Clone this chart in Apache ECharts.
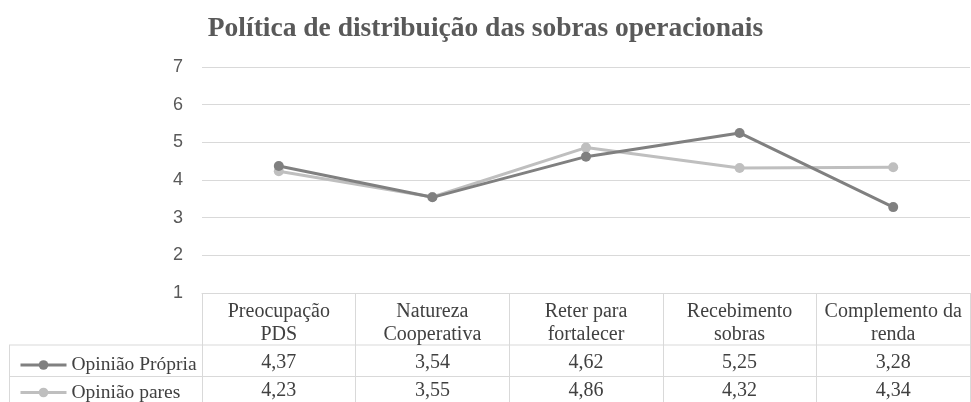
<!DOCTYPE html>
<html>
<head>
<meta charset="utf-8">
<script src="https://cdn.jsdelivr.net/npm/echarts@6/dist/echarts.min.js"></script>
<style>
  html, body { margin: 0; padding: 0; background: #fff; }
  #chart { width: 971px; height: 402px; }
</style>
</head>
<body>
<div id="chart"></div>
<script>
const categories = [
  "Preocupação\nPDS",
  "Natureza\nCooperativa",
  "Reter para\nfortalecer",
  "Recebimento\nsobras",
  "Complemento da\nrenda",
];
const propria = [4.37, 3.54, 4.62, 5.25, 3.28];
const pares = [4.23, 3.55, 4.86, 4.32, 4.34];
const seriesNames = ["Opinião Própria", "Opinião pares"];
const seriesColors = ["#808080", "#bfbfbf"];
const yTicks = [1, 2, 3, 4, 5, 6, 7];

const serif = "'Liberation Serif', 'Times New Roman', serif";
const gridLine = "#d9d9d9";
const fmt = (v) => v.toFixed(2).replace(".", ",");

const chart = echarts.init(document.getElementById("chart"));

const legendFor = (name, top) => ({
  orient: "horizontal",
  left: 14,
  top: top,
  itemWidth: 46,
  itemHeight: 12,
  data: [name],
  lineStyle: { width: 3 },
  textStyle: {
    fontFamily: serif,
    fontSize: 19.5,
    color: "#404040",
    lineHeight: 20,
  },
});

const option = {
  backgroundColor: "#ffffff",
  animation: false,
  title: {
    text: "Política de distribuição das sobras operacionais",
    left: "center",
    top: 10,
    textStyle: {
      fontFamily: serif,
      fontSize: 27.5,
      fontWeight: "bold",
      color: "#595959",
    },
  },
  legend: [legendFor(seriesNames[0], 350), legendFor(seriesNames[1], 377.5)],
  grid: {
    left: 202,
    right: 1,
    top: 67,
    bottom: 109,
  },
  xAxis: {
    type: "category",
    data: categories,
    boundaryGap: true,
    axisLine: { show: true, lineStyle: { color: gridLine, width: 1 } },
    axisTick: {
      show: true,
      interval: 0,
      length: 112,
      lineStyle: { color: gridLine, width: 1 },
    },
    axisLabel: {
      interval: 0,
      margin: 7,
      verticalAlign: "top",
      formatter: (value, idx) => {
        const parts = value.split("\n").map((p) => "{h|" + p + "}");
        return parts.join("\n") + "\n{a|" + fmt(propria[idx]) + "}\n{b|" + fmt(pares[idx]) + "}";
      },
      rich: {
        h: { fontFamily: serif, fontSize: 20, color: "#404040", lineHeight: 23, align: "center" },
        a: { fontFamily: serif, fontSize: 20, color: "#404040", lineHeight: 34, align: "center" },
        b: { fontFamily: serif, fontSize: 20, color: "#404040", lineHeight: 21, align: "center" },
      },
    },
  },
  yAxis: {
    type: "value",
    min: yTicks[0],
    max: yTicks[yTicks.length - 1],
    interval: 1,
    axisLine: { show: false },
    axisTick: { show: false },
    axisLabel: {
      color: "#595959",
      fontFamily: "'Liberation Sans', Arial, sans-serif",
      fontSize: 18,
      margin: 19,
    },
    splitLine: { lineStyle: { color: gridLine, width: 1 } },
  },
  series: [
    {
      name: seriesNames[0],
      type: "line",
      data: propria,
      symbol: "circle",
      symbolSize: 10,
      z: 3,
      lineStyle: { color: seriesColors[0], width: 3 },
      itemStyle: { color: seriesColors[0] },
    },
    {
      name: seriesNames[1],
      type: "line",
      data: pares,
      symbol: "circle",
      symbolSize: 10,
      z: 2,
      lineStyle: { color: seriesColors[1], width: 3 },
      itemStyle: { color: seriesColors[1] },
    },
  ],
};

chart.setOption(option);

// table borders around the legend column and value rows
const topY = chart.convertToPixel({ yAxisIndex: 0 }, yTicks[0]);
const row1 = topY + 52;
const row2 = row1 + 31.5;
const lineStyle = { stroke: gridLine, lineWidth: 1 };
chart.setOption({
  graphic: [
    { type: "line", shape: { x1: 9, y1: row1, x2: 971, y2: row1 }, style: lineStyle, silent: true },
    { type: "line", shape: { x1: 9, y1: row2, x2: 971, y2: row2 }, style: lineStyle, silent: true },
    { type: "line", shape: { x1: 9.5, y1: row1, x2: 9.5, y2: 402 }, style: lineStyle, silent: true },
  ],
});
</script>
</body>
</html>
